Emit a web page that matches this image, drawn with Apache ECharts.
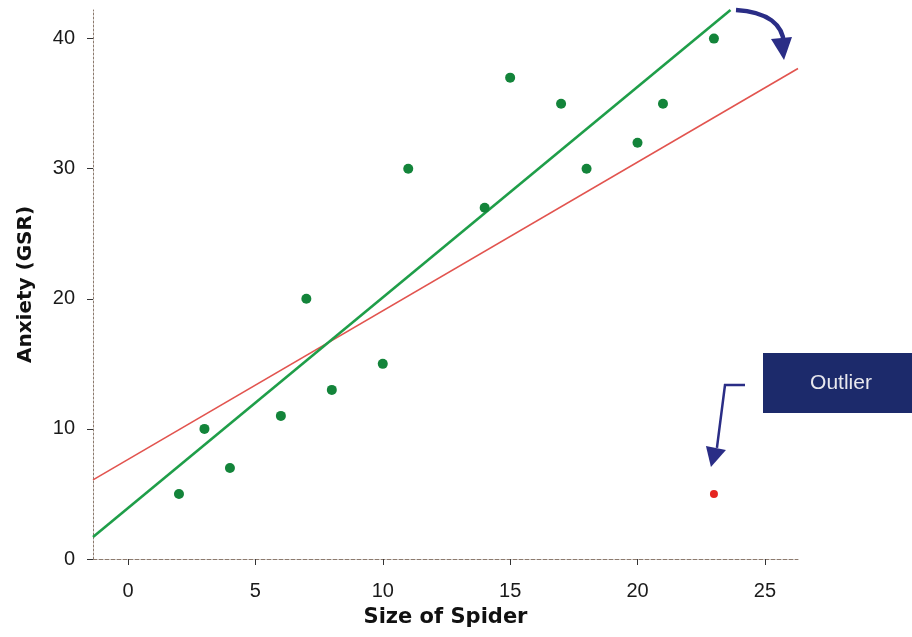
<!DOCTYPE html>
<html>
<head>
<meta charset="utf-8">
<script src="https://cdn.jsdelivr.net/npm/echarts@6/dist/echarts.min.js"></script>
<style>
html,body{margin:0;padding:0;background:#fff;}
#c{width:912px;height:637px;}
</style>
</head>
<body>
<div id="c"></div>
<script>
// Data
const spiderSize = [2, 3, 4, 6, 7, 8, 10, 11, 14, 15, 17, 18, 20, 21, 23];
const anxiety    = [5, 10, 7, 11, 20, 13, 15, 30, 27, 37, 35, 30, 32, 35, 40];
const outlierSize = [23];
const outlierAnxiety = [5];
// Regression lines (endpoints)
const fitWithoutOutlierX = [-1.375, 23.65];
const fitWithoutOutlierY = [1.7, 42.2];
const fitWithOutlierX = [-1.375, 26.3];
const fitWithOutlierY = [6.08, 37.7];
const xTicks = [0, 5, 10, 15, 20, 25];
const yTicks = [0, 10, 20, 30, 40];
const xTitle = 'Size of Spider';
const yTitle = 'Anxiety (GSR)';
const noteText = 'Outlier';

const zip = (a, b) => a.map((v, i) => [v, b[i]]);
const FONT = '"Liberation Sans", Arial, sans-serif';
const TFONT = '"DejaVu Sans", "Liberation Sans", sans-serif';
const chart = echarts.init(document.getElementById('c'), null, {renderer: 'canvas'});

const option = {
  backgroundColor: '#ffffff',
  animation: false,
  grid: {left: 93, right: 114, top: 10, bottom: 78, containLabel: false},
  xAxis: {
    type: 'value', min: -1.375, max: 26.3,
    name: xTitle, nameLocation: 'middle', nameGap: 48,
    nameTextStyle: {fontFamily: TFONT, fontSize: 21, fontWeight: 'bold', color: '#111'},
    axisLine: {show: true, onZero: false, lineStyle: {color: '#8c7a6e', type: [4, 2], width: 1}},
    axisTick: {show: true, inside: false, length: 6, customValues: xTicks, lineStyle: {color: '#333', width: 1}},
    axisLabel: {customValues: xTicks, fontFamily: FONT, fontSize: 20, color: '#1a1a1a', margin: 22},
    splitLine: {show: false}
  },
  yAxis: {
    type: 'value', min: 0, max: 42.2,
    name: yTitle, nameLocation: 'middle', nameGap: 57, nameRotate: 90,
    nameTextStyle: {fontFamily: TFONT, fontSize: 20, fontWeight: 'bold', color: '#111'},
    axisLine: {show: true, onZero: false, lineStyle: {color: '#8c7a6e', type: [2, 2], width: 1}},
    axisTick: {show: true, inside: false, length: 6, customValues: yTicks, lineStyle: {color: '#333', width: 1}},
    axisLabel: {customValues: yTicks, fontFamily: FONT, fontSize: 20, color: '#1a1a1a', margin: 18},
    splitLine: {show: false}
  },
  series: [
    {
      type: 'line', data: zip(fitWithOutlierX, fitWithOutlierY),
      showSymbol: false, lineStyle: {color: '#e2544f', width: 1.6}, z: 2, silent: true
    },
    {
      type: 'line', data: zip(fitWithoutOutlierX, fitWithoutOutlierY),
      showSymbol: false, lineStyle: {color: '#1f9e49', width: 2.6}, z: 3, silent: true
    },
    {
      type: 'scatter', data: zip(spiderSize, anxiety),
      symbol: 'circle', symbolSize: 10,
      itemStyle: {color: '#13843a', opacity: 1}, z: 4
    },
    {
      type: 'scatter', data: zip(outlierSize, outlierAnxiety),
      symbol: 'circle', symbolSize: 8,
      itemStyle: {color: '#e52521', opacity: 1}, z: 4
    }
  ]
};
chart.setOption(option);

// Annotations anchored to the outlier point
const tip = chart.convertToPixel({gridIndex: 0}, [outlierSize[0], outlierAnxiety[0]]);
const tx = tip[0] - 3, ty = tip[1] - 27;
const navy = '#2a2d86';
chart.setOption({
  graphic: [
    {type: 'rect', shape: {x: 763, y: 353, width: 160, height: 60}, style: {fill: '#1c2a6b'}, z: 10},
    {type: 'text', x: 841, y: 383, style: {text: noteText, fill: '#e8e8ee', font: '21px ' + FONT, textAlign: 'center', textVerticalAlign: 'middle'}, z: 11},
    {type: 'polyline', shape: {points: [[745, 385], [725, 385], [tx + 6, ty - 19]]}, style: {stroke: navy, lineWidth: 2.5, fill: null}, z: 10},
    {type: 'polygon', shape: {points: [[tx, ty], [tx - 5, ty - 21], [tx + 15, ty - 17]]}, style: {fill: navy}, z: 10},
    {type: 'bezierCurve', shape: {x1: 736, y1: 10, cpx1: 768, cpy1: 12, cpx2: 783, cpy2: 25, x2: 784, y2: 44}, style: {stroke: navy, lineWidth: 4.5, fill: null}, z: 10},
    {type: 'polygon', shape: {points: [[771, 39], [792, 37], [784, 60]]}, style: {fill: navy}, z: 10}
  ]
});
</script>
</body>
</html>
